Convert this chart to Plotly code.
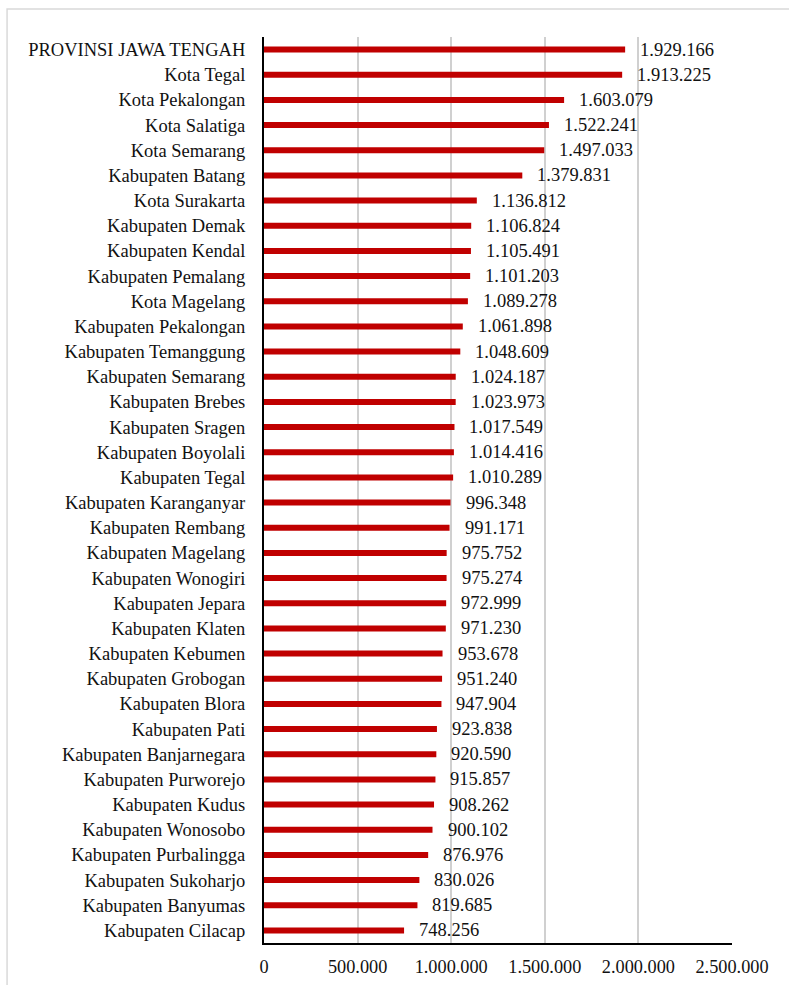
import plotly.graph_objects as go

# Wilayah (dari atas ke bawah) dan nilainya
regions = [
    "PROVINSI JAWA TENGAH", "Kota Tegal", "Kota Pekalongan", "Kota Salatiga",
    "Kota Semarang", "Kabupaten Batang", "Kota Surakarta", "Kabupaten Demak",
    "Kabupaten Kendal", "Kabupaten Pemalang", "Kota Magelang", "Kabupaten Pekalongan",
    "Kabupaten Temanggung", "Kabupaten Semarang", "Kabupaten Brebes", "Kabupaten Sragen",
    "Kabupaten Boyolali", "Kabupaten Tegal", "Kabupaten Karanganyar", "Kabupaten Rembang",
    "Kabupaten Magelang", "Kabupaten Wonogiri", "Kabupaten Jepara", "Kabupaten Klaten",
    "Kabupaten Kebumen", "Kabupaten Grobogan", "Kabupaten Blora", "Kabupaten Pati",
    "Kabupaten Banjarnegara", "Kabupaten Purworejo", "Kabupaten Kudus", "Kabupaten Wonosobo",
    "Kabupaten Purbalingga", "Kabupaten Sukoharjo", "Kabupaten Banyumas", "Kabupaten Cilacap",
]
values = [
    1929166, 1913225, 1603079, 1522241, 1497033, 1379831, 1136812, 1106824,
    1105491, 1101203, 1089278, 1061898, 1048609, 1024187, 1023973, 1017549,
    1014416, 1010289, 996348, 991171, 975752, 975274, 972999, 971230,
    953678, 951240, 947904, 923838, 920590, 915857, 908262, 900102,
    876976, 830026, 819685, 748256,
]
tick_vals = [0, 500000, 1000000, 1500000, 2000000, 2500000]
tick_text = ["0", "500.000", "1.000.000", "1.500.000", "2.000.000", "2.500.000"]


def fmt(v):
    return f"{v:,}".replace(",", ".")


FONT = "Liberation Serif"
BAR = "#c00000"
TXT = "#111111"

fig = go.Figure(
    go.Bar(
        x=values,
        y=regions,
        orientation="h",
        marker=dict(color=BAR, line=dict(width=0)),
        width=0.24,
        hoverinfo="x+y",
    )
)

# value labels at the outer end of each bar
for r, v in zip(regions, values):
    fig.add_annotation(
        x=v, y=r, xref="x", yref="y",
        text=fmt(v), showarrow=False,
        xanchor="left", yanchor="middle", xshift=13,
        font=dict(family=FONT, size=18.5, color=TXT),
    )

# light outer frame of the chart
fig.add_shape(
    type="rect", xref="paper", yref="paper",
    x0=-0.549, x1=1.2, y0=-0.2, y1=1.0309,
    line=dict(color="#d9d9d9", width=1.5), fillcolor="rgba(0,0,0,0)",
    layer="below",
)

fig.update_layout(
    width=789, height=985,
    margin=dict(l=264, r=57, t=37, b=42),
    paper_bgcolor="white", plot_bgcolor="white",
    showlegend=False,
    font=dict(family=FONT, size=18.5, color=TXT),
    xaxis=dict(
        range=[0, 2500000],
        tickvals=tick_vals, ticktext=tick_text,
        showgrid=True, gridcolor="#d0d0d0", gridwidth=1.5,
        zeroline=False,
        showline=True, linecolor="black", linewidth=2,
        ticks="", ticklabelstandoff=6,
        tickfont=dict(family=FONT, size=18.3, color=TXT),
        automargin=False,
        fixedrange=True,
    ),
    yaxis=dict(
        categoryorder="array", categoryarray=regions[::-1],
        showgrid=False, zeroline=False,
        showline=True, linecolor="black", linewidth=2,
        ticks="", ticklabelstandoff=13,
        tickfont=dict(family=FONT, size=18.5, color=TXT),
        automargin=False,
        fixedrange=True,
    ),
)

fig.write_html("out.html")
